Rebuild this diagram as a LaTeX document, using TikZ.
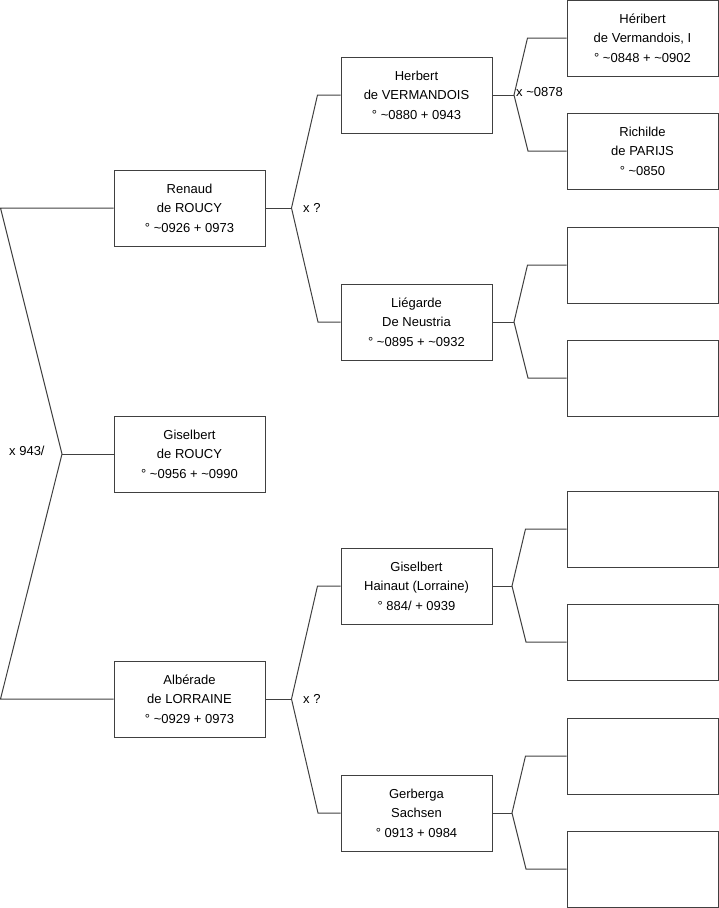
\documentclass[tikz,border=0pt]{standalone}
\usepackage{fontspec}
\setmainfont{Liberation Sans}
\usepackage{tikz}
\usetikzlibrary{positioning}

\tikzset{
  persoon/.style={draw=black!75,line width=1pt,minimum width=151pt,minimum height=76pt,
    inner sep=0pt,align=center,font=\fontsize{13}{19.5}\selectfont},
  lijn/.style={draw=black!75,line width=1pt},
  huw/.style={anchor=west,inner sep=0pt,font=\fontsize{13}{15}\selectfont}
}
\newcommand{\tl}{\textasciitilde}

\begin{document}
\begin{tikzpicture}[x=1pt,y=-1pt]
  \useasboundingbox (0,0) rectangle (719,908);

  % generatie 1
  \node[persoon] (renaud) at (189.5,208) {Renaud\\de ROUCY\\° \tl0926 + 0973};
  \node[persoon] (gisroucy) at (189.5,454) {Giselbert\\de ROUCY\\° \tl0956 + \tl0990};
  \node[persoon] (alberade) at (189.5,699) {Albérade\\de LORRAINE\\° \tl0929 + 0973};

  % generatie 2
  \node[persoon] (herbert) at (416.5,95) {Herbert\\de VERMANDOIS\\° \tl0880 + 0943};
  \node[persoon] (liegarde) at (416.5,322) {Liégarde\\De Neustria\\° \tl0895 + \tl0932};
  \node[persoon] (gishainaut) at (416.5,586) {Giselbert\\Hainaut (Lorraine)\\° 884/ + 0939};
  \node[persoon] (gerberga) at (416.5,813) {Gerberga\\Sachsen\\° 0913 + 0984};

  % generatie 3
  \node[persoon] (heribert) at (642.5,38) {Héribert\\de Vermandois, I\\° \tl0848 + \tl0902};
  \node[persoon] (richilde) at (642.5,151) {Richilde\\de PARIJS\\° \tl0850};
  \node[persoon] (leeg1) at (642.5,265) {};
  \node[persoon] (leeg2) at (642.5,378) {};
  \node[persoon] (leeg3) at (642.5,529) {};
  \node[persoon] (leeg4) at (642.5,642) {};
  \node[persoon] (leeg5) at (642.5,756) {};
  \node[persoon] (leeg6) at (642.5,869) {};

  % huwelijken
  \coordinate (rtop) at (0.5,208);
  \coordinate (rbot) at (0.5,699);
  \coordinate (jroot) at (62,454);
  \draw[lijn] (renaud.west) -- (rtop) -- (jroot) -- (rbot) -- (alberade.west);
  \draw[lijn] (jroot) -- (gisroucy.west);
  \node[huw] (h0) at (9,451) {x 943/};

  \coordinate (jren) at (291.5,208);
  \draw[lijn] (herbert.west) -- ++(-23,0) -- (jren) -- (liegarde.west -| 318,0) -- (liegarde.west);
  \draw[lijn] (renaud.east) -- (jren);
  \node[huw] (h1) at (303,208) {x ?};

  \coordinate (jalb) at (291.5,699);
  \draw[lijn] (gishainaut.west) -- ++(-23,0) -- (jalb) -- (gerberga.west -| 318,0) -- (gerberga.west);
  \draw[lijn] (alberade.east) -- (jalb);
  \node[huw] (h2) at (303,699) {x ?};

  \coordinate (jher) at (514,95);
  \draw[lijn] (heribert.west) -- ++(-39,0) -- (jher) -- (richilde.west -| 528,0) -- (richilde.west);
  \draw[lijn] (herbert.east) -- (jher);
  \node[huw] (h3) at (516,92) {x \tl0878};

  \coordinate (jlie) at (514,322);
  \draw[lijn] (leeg1.west) -- ++(-39,0) -- (jlie) -- (leeg2.west -| 528,0) -- (leeg2.west);
  \draw[lijn] (liegarde.east) -- (jlie);

  \coordinate (jgis) at (512,586);
  \draw[lijn] (leeg3.west) -- ++(-41,0) -- (jgis) -- (leeg4.west -| 526,0) -- (leeg4.west);
  \draw[lijn] (gishainaut.east) -- (jgis);

  \coordinate (jger) at (512,813);
  \draw[lijn] (leeg5.west) -- ++(-41,0) -- (jger) -- (leeg6.west -| 526,0) -- (leeg6.west);
  \draw[lijn] (gerberga.east) -- (jger);
\end{tikzpicture}
\end{document}
